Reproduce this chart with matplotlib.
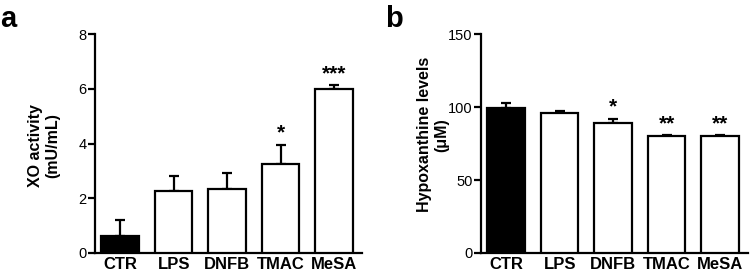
import matplotlib.pyplot as plt
import numpy as np

plt.rcParams['font.family'] = ['Liberation Sans', 'DejaVu Sans']

groups = ["CTR", "LPS", "DNFB", "TMAC", "MeSA"]
xo_mean = [0.62, 2.28, 2.32, 3.25, 5.98]
xo_err = [0.58, 0.52, 0.60, 0.70, 0.15]
xo_stars = ["", "", "", "*", "***"]
hx_mean = [99, 96, 89, 80, 80]
hx_err = [4, 1, 3, 0.6, 0.6]
hx_stars = ["", "", "*", "**", "**"]
colors = ["black", "white", "white", "white", "white"]


def draw_panel(ax, means, errs, stars, ymax, yticks, ylabel, letter,
               star_pad, label_xy, letter_xy):
    x = np.arange(len(groups))
    ax.bar(x, means, width=0.7, color=colors, edgecolor='black', linewidth=1.6, zorder=3)
    ax.errorbar(x, means, yerr=[np.zeros(len(errs)), errs], fmt='none',
                ecolor='black', elinewidth=1.6, capsize=3.8, capthick=1.6, zorder=2)
    for xi, m, e, s in zip(x, means, errs, stars):
        if s:
            ax.text(xi, m + e + star_pad, s, ha='center', va='bottom',
                    fontsize=15, fontweight='bold')
    ax.set_xlim(-0.47, 4.52)
    ax.set_ylim(0, ymax)
    ax.set_yticks(yticks)
    ax.set_xticks(x)
    ax.set_xticklabels(groups, fontsize=12, fontweight='bold')
    ax.tick_params(axis='x', length=0, pad=3)
    ax.tick_params(axis='y', length=5, width=1.6, labelsize=10.5, pad=1)
    for sp in ['top', 'right']:
        ax.spines[sp].set_visible(False)
    for sp in ['left', 'bottom']:
        ax.spines[sp].set_linewidth(1.6)
    ax.set_ylabel(ylabel, fontsize=11.5, fontweight='bold', linespacing=1.2,
                  va='center')
    ax.yaxis.set_label_coords(*label_xy)
    ax.text(letter_xy[0], letter_xy[1], letter, transform=ax.transAxes,
            fontsize=21, fontweight='bold', va='baseline')


fig = plt.figure(figsize=(7.5, 2.73), dpi=100)
ax1 = fig.add_axes([0.1267, 0.0733, 0.356, 0.802])
ax2 = fig.add_axes([0.6413, 0.0733, 0.356, 0.802])

draw_panel(ax1, xo_mean, xo_err, xo_stars, 8, [0, 2, 4, 6, 8],
           "XO activity\n(mU/mL)", "a", 0.08, (-0.191, 0.49), (-0.356, 1.03))
draw_panel(ax2, hx_mean, hx_err, hx_stars, 150, [0, 50, 100, 150],
           "Hypoxanthine levels\n(\u03bcM)", "b", 1.5, (-0.18, 0.54), (-0.36, 1.03))

fig.savefig("out.png", dpi=100)
